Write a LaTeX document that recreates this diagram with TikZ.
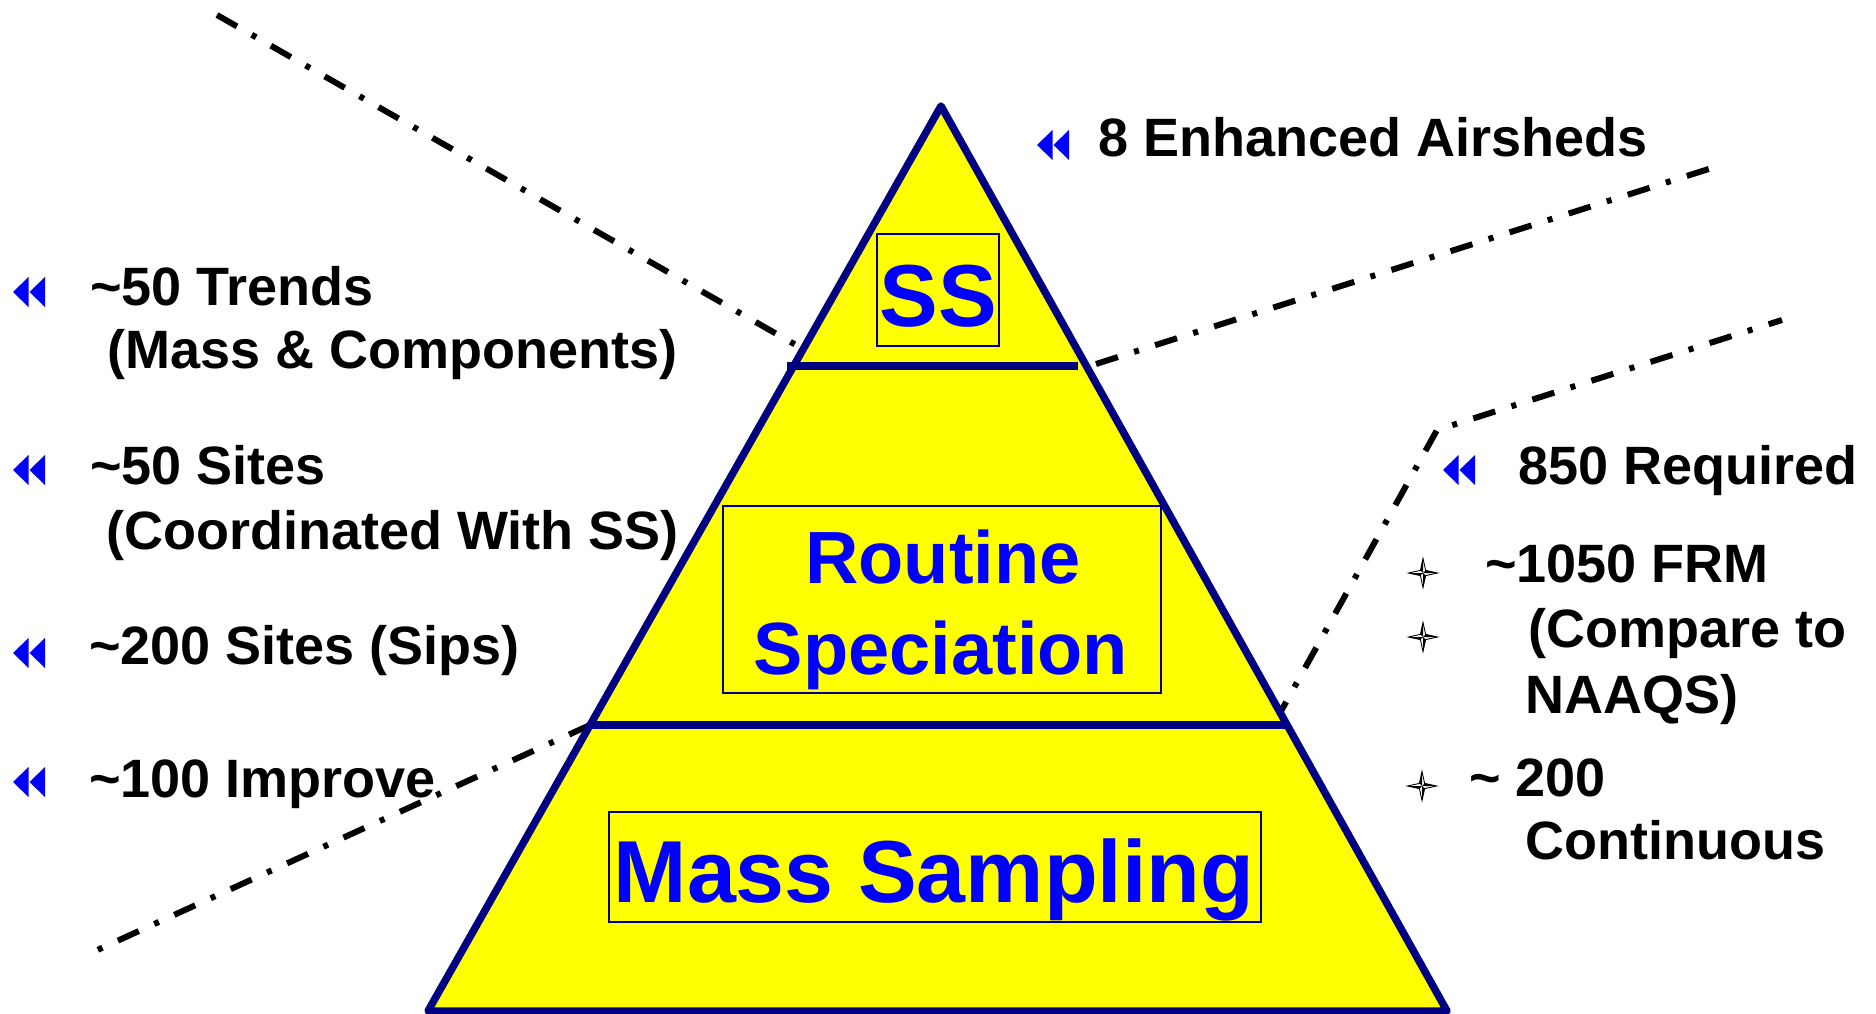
\documentclass[tikz,border=0pt]{standalone}
\usepackage{fontspec}
\setmainfont{Liberation Sans}
\definecolor{navy}{RGB}{0,0,128}
\definecolor{pblue}{RGB}{0,0,255}
\definecolor{pyellow}{RGB}{255,255,0}
\tikzset{
  lbl/.style={anchor=base west, inner sep=0pt, text=black,
    font=\fontsize{54}{63}\selectfont\bfseries},
  bigtxt/.style={anchor=base, inner sep=0pt, text=pblue},
  tierbox/.style={draw=navy, line width=2pt, fill=pyellow, inner sep=0pt},
  dashdot/.style={draw=black, line width=6pt,
    dash pattern=on 23pt off 17pt on 5pt off 17pt},
  dbl/.pic={
    \fill[pblue] (0,0) -- (15.5,-15) -- (15.5,15) -- cycle;
    \fill[pblue] (16.5,0) -- (32,-15) -- (32,15) -- cycle;
  },
  compass/.pic={
    \filldraw[fill=white, draw=black, line width=0.9pt]
      (0,-14.5) -- (2.6,-2.6) -- (14.5,0) -- (2.6,2.6) -- (0,14.5)
      -- (-2.6,2.6) -- (-14.5,0) -- (-2.6,-2.6) -- cycle;
    \fill[black] (0,-14.5) -- (0,0) -- (-2.6,-2.6) -- cycle;
    \fill[black] (0,14.5) -- (0,0) -- (2.6,2.6) -- cycle;
    \fill[black] (14.5,0) -- (0,0) -- (2.6,-2.6) -- cycle;
    \fill[black] (-14.5,0) -- (0,0) -- (-2.6,2.6) -- cycle;
  }
}
\begin{document}
\begin{tikzpicture}[x=1pt,y=-1pt]
\useasboundingbox (0,0) rectangle (1876,1014);

% key points of the pyramid
\coordinate (apex) at (941,106);
\coordinate (bl) at (428,1011);
\coordinate (br) at (1447,1011);
\coordinate (d1l) at (787,366);
\coordinate (d1r) at (1078,366);
\coordinate (d2l) at (590,725);
\coordinate (d2r) at (1286,725);

% free ends of the dash-dot leaders
\coordinate (l1a) at (217,15);
\coordinate (l1b) at (803,349);
\coordinate (l2a) at (1096,364);
\coordinate (l2b) at (1715,167);
\coordinate (l3a) at (1275,722);
\coordinate (l3k) at (1437,430);
\coordinate (l3b) at (1782,320);
\coordinate (l4b) at (93,952);

% dash-dot leaders
\draw[dashdot] (l1a) -- (l1b);
\draw[dashdot] (l2a) -- (l2b);
\draw[dashdot] (l3a) -- (l3k) -- (l3b);
\draw[dashdot] (d2l) -- (l4b);

% pyramid
\draw[navy, line width=7.5pt, fill=pyellow, line join=round] (apex) -- (br) -- (bl) -- cycle;
\draw[navy, line width=7.5pt] (d1l) -- (d1r);
\draw[navy, line width=7.5pt] (d2l) -- (d2r);

% tier boxes and titles
\node[tierbox, minimum width=122pt, minimum height=112pt] (ssbox) at (938,290) {};
\node[bigtxt, font=\fontsize{88}{100}\selectfont\bfseries] (sstxt) at (938,326) {SS};

\node[tierbox, minimum width=438pt, minimum height=187pt] (rsbox) at (942,599.5) {};
\node[bigtxt, font=\fontsize{74}{91}\selectfont\bfseries] (rstxt1) at (943,583) {Routine};
\node[bigtxt, font=\fontsize{74}{91}\selectfont\bfseries] (rstxt2) at (941,674) {Speciation};

\node[tierbox, minimum width=652pt, minimum height=110pt] (msbox) at (935,867) {};
\node[bigtxt, font=\fontsize{88}{100}\selectfont\bfseries] (mstxt) at (934,902) {Mass Sampling};

% left side labels
\pic at (13,292) {dbl};
\node[lbl] (lt1) at (90,305) {\textasciitilde 50 Trends};
\node[lbl] (lt2) at (107,368) {(Mass \& Components)};
\pic at (13,470) {dbl};
\node[lbl] (ls1) at (90,484) {\textasciitilde 50 Sites};
\node[lbl] (ls2) at (106,549) {(Coordinated With SS)};
\pic at (13,653) {dbl};
\node[lbl] (lsips) at (89,664) {\textasciitilde 200 Sites (Sips)};
\pic at (13,782) {dbl};
\node[lbl] (limp) at (89,797) {\textasciitilde 100 Improve};

% right side labels
\pic at (1037,145) {dbl};
\node[lbl] (rea) at (1098,157) {8 Enhanced Airsheds};
\pic at (1443,470) {dbl};
\node[lbl] (rreq) at (1518,484) {850 Required};
\pic at (1423,573) {compass};
\node[lbl] (rfrm) at (1485,582) {\textasciitilde 1050 FRM};
\pic at (1423,637) {compass};
\node[lbl] (rcmp) at (1528,647) {(Compare to};
\node[lbl] (rnaa) at (1525,713) {NAAQS)};
\pic at (1422,786) {compass};
\node[lbl] (rc1) at (1469,796) {\textasciitilde\ 200};
\node[lbl] (rc2) at (1525,859) {Continuous};
\end{tikzpicture}
\end{document}
